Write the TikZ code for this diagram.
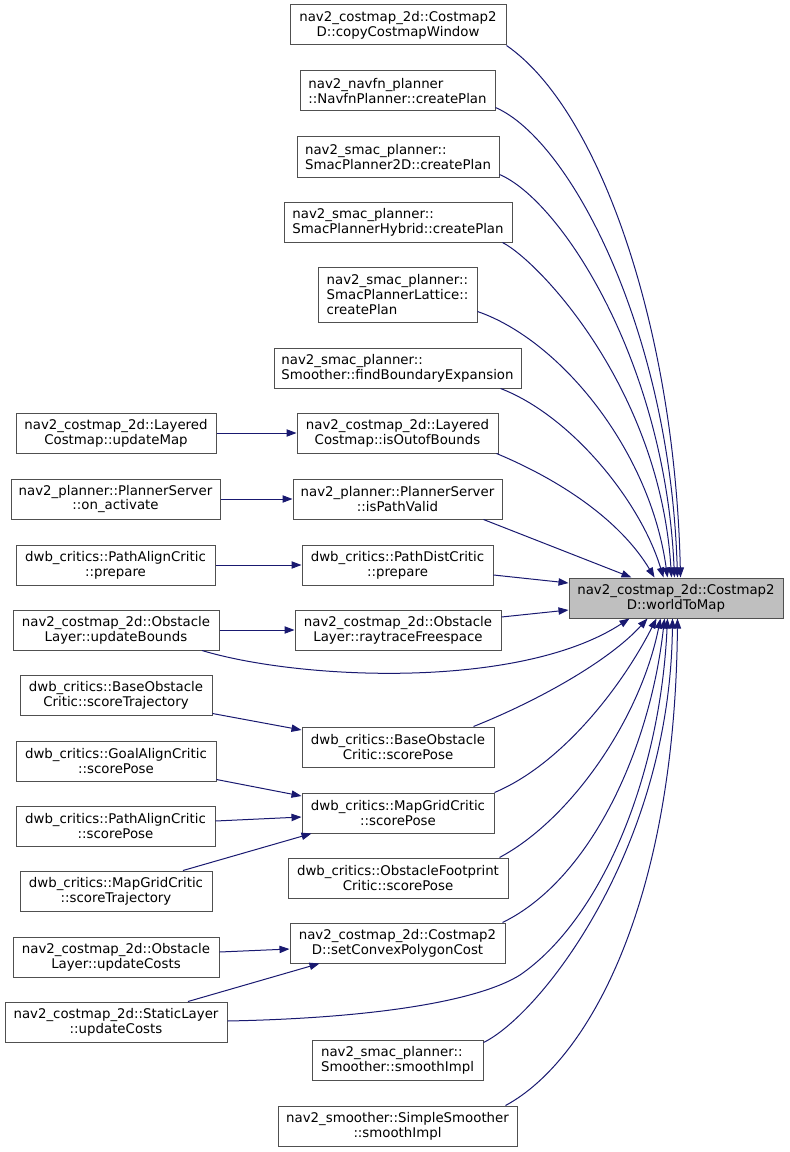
\documentclass[tikz,border=0pt]{standalone}
\usepackage{fontspec}
\setmainfont{DejaVu Sans}
\usetikzlibrary{arrows.meta,calc}
\definecolor{edgec}{HTML}{191970}
\definecolor{bord}{HTML}{505050}
\definecolor{tfill}{HTML}{BFBFBF}
\begin{document}
\begin{tikzpicture}[x=0.75pt,y=-0.75pt,
  box/.style={draw=bord, line width=0.75pt, fill=white, inner sep=0pt,
    font=\fontsize{10}{11}\selectfont, align=center, minimum height=30pt},
  lbox/.style={box, align=left},
  conn/.style={draw=edgec, line width=0.75pt, -{Triangle[length=7.5pt,width=5.5pt]}}]
\useasboundingbox (0,0) rectangle (789,1152);

% target
\node[box, fill=tfill, minimum width=160.5pt] (T) at (676,598) {nav2\_costmap\_2d::Costmap2\\D::worldToMap};

% middle column
\node[box,  minimum width=162pt]    (M1)  at (398,25)    {nav2\_costmap\_2d::Costmap2\\D::copyCostmapWindow};
\node[lbox, minimum width=146.25pt] (M2)  at (397.5,91)  {nav2\_navfn\_planner\\::NavfnPlanner::createPlan};
\node[lbox, minimum width=151.5pt]  (M3)  at (398,157)   {nav2\_smac\_planner::\\SmacPlanner2D::createPlan};
\node[lbox, minimum width=171pt]    (M4)  at (398,222)   {nav2\_smac\_planner::\\SmacPlannerHybrid::createPlan};
\node[lbox, minimum width=119.25pt, minimum height=41.25pt] (M5) at (397.5,294.5) {nav2\_smac\_planner::\\SmacPlannerLattice::\\createPlan};
\node[lbox, minimum width=185.25pt] (M6)  at (397.5,368) {nav2\_smac\_planner::\\Smoother::findBoundaryExpansion};
\node[box,  minimum width=150.75pt] (M7)  at (397.5,433) {nav2\_costmap\_2d::Layered\\Costmap::isOutofBounds};
\node[box,  minimum width=156.75pt] (M8)  at (397.5,499) {nav2\_planner::PlannerServer\\::isPathValid};
\node[box,  minimum width=143.25pt] (M9)  at (397.5,565) {dwb\_critics::PathDistCritic\\::prepare};
\node[box,  minimum width=154.5pt]  (M10) at (398,630)   {nav2\_costmap\_2d::Obstacle\\Layer::raytraceFreespace};
\node[box,  minimum width=144pt]    (M11) at (398,747)   {dwb\_critics::BaseObstacle\\Critic::scorePose};
\node[box,  minimum width=144pt]    (M12) at (398,813)   {dwb\_critics::MapGridCritic\\::scorePose};
\node[box,  minimum width=165pt]    (M13) at (398,878)   {dwb\_critics::ObstacleFootprint\\Critic::scorePose};
\node[box,  minimum width=161.25pt] (M14) at (397.5,943) {nav2\_costmap\_2d::Costmap2\\D::setConvexPolygonCost};
\node[lbox, minimum width=128.25pt] (M15) at (397.5,1060) {nav2\_smac\_planner::\\Smoother::smoothImpl};
\node[box,  minimum width=179.25pt] (M16) at (397.5,1126) {nav2\_smoother::SimpleSmoother\\::smoothImpl};

% left column
\node[box, minimum width=150pt]    (L1)  at (116,433)   {nav2\_costmap\_2d::Layered\\Costmap::updateMap};
\node[box, minimum width=156.75pt] (L2)  at (115.5,499) {nav2\_planner::PlannerServer\\::on\_activate};
\node[box, minimum width=149.25pt] (L3)  at (115.5,565) {dwb\_critics::PathAlignCritic\\::prepare};
\node[box, minimum width=154.5pt]  (L4)  at (116,630)   {nav2\_costmap\_2d::Obstacle\\Layer::updateBounds};
\node[box, minimum width=144pt]    (L5)  at (116,695)   {dwb\_critics::BaseObstacle\\Critic::scoreTrajectory};
\node[box, minimum width=150pt]    (L6)  at (116,761)   {dwb\_critics::GoalAlignCritic\\::scorePose};
\node[box, minimum width=149.25pt] (L7)  at (115.5,826) {dwb\_critics::PathAlignCritic\\::scorePose};
\node[box, minimum width=144pt]    (L8)  at (116,891)   {dwb\_critics::MapGridCritic\\::scoreTrajectory};
\node[box, minimum width=154.5pt]  (L9)  at (116,957)   {nav2\_costmap\_2d::Obstacle\\Layer::updateCosts};
\node[box, minimum width=166.5pt]  (L10) at (116,1022)  {nav2\_costmap\_2d::StaticLayer\\::updateCosts};

% edges into target from above
\draw[conn] (M1.south east) .. controls (600,110) and (675,330) .. ($(T.north west)+(112,0)$);
\draw[conn] ($(M2.south east)+(0,-4)$) .. controls (570,140) and (670,330) .. ($(T.north west)+(109,0)$);
\draw[conn] ($(M3.south east)+(0,-3)$) .. controls (560,200) and (665,360) .. ($(T.north west)+(106,0)$);
\draw[conn] ($(M4.south east)+(-10,0)$) .. controls (540,262) and (660,390) .. ($(T.north west)+(103,0)$);
\draw[conn] ($(M5.south east)+(0,-11)$) .. controls (560,340) and (650,450) .. ($(T.north west)+(99,0)$);
\draw[conn] ($(M6.south east)+(-21,0)$) .. controls (570,415) and (640,500) .. ($(T.north west)+(95,0)$);
\draw[conn] ($(M7.south east)+(-2,0)$) .. controls (560,480) and (620,520) .. ($(T.north west)+(86,0)$);
\draw[conn] ($(M8.south east)+(-19,0)$) -- ($(T.north west)+(63,0)$);

% edges into target from the left
\draw[conn] ($(M9.east)+(0,10)$) -- ($(T.west)+(0,-15)$);
\draw[conn] ($(M10.east)+(0,-13)$) -- ($(T.west)+(0,12)$);

% edges into target from below
\draw[conn] ($(L4.south)+(86,0)$) .. controls (300,680) and (520,690) .. ($(T.south west)+(61,0)$);
\draw[conn] ($(M11.north east)+(-21,0)$) .. controls (540,700) and (610,660) .. ($(T.south west)+(79,0)$);
\draw[conn] (M12.north east) .. controls (560,765) and (620,690) .. ($(T.south west)+(88,0)$);
\draw[conn] ($(M13.north east)+(-9,0)$) .. controls (570,820) and (640,720) .. ($(T.south west)+(92,0)$);
\draw[conn] ($(M14.north east)+(-3,0)$) .. controls (590,880) and (650,750) .. ($(T.south west)+(96,0)$);
\draw[conn] ($(L10.east)+(0,-1)$) .. controls (380,1018) and (480,1000) .. (520,975)
  .. controls (600,920) and (660,780) .. ($(T.south west)+(99,0)$);
\draw[conn] ($(M15.north east)+(0,3)$) .. controls (540,1015) and (670,850) .. ($(T.south west)+(104,0)$);
\draw[conn] ($(M16.north east)+(-12,0)$) .. controls (590,1060) and (675,900) .. ($(T.south west)+(109,0)$);

% left column to middle column
\draw[conn] (L1.east) -- (M7.west);
\draw[conn] (L2.east) -- (M8.west);
\draw[conn] (L3.east) -- (M9.west);
\draw[conn] (L4.east) -- (M10.west);
\draw[conn] ($(L5.south east)+(0,-2)$) -- ($(M11.west)+(0,-17)$);
\draw[conn] ($(L6.south east)+(0,-2)$) -- ($(M12.west)+(0,-17)$);
\draw[conn] ($(L7.east)+(0,-5)$) -- ($(M12.west)+(0,4)$);
\draw[conn] ($(L8.north)+(67,0)$) -- ($(M12.south west)+(10,0)$);
\draw[conn] ($(L9.east)+(0,-5)$) -- ($(M14.west)+(0,6)$);
\draw[conn] ($(L10.north)+(72,0)$) -- ($(M14.south west)+(30,0)$);
\end{tikzpicture}
\end{document}
